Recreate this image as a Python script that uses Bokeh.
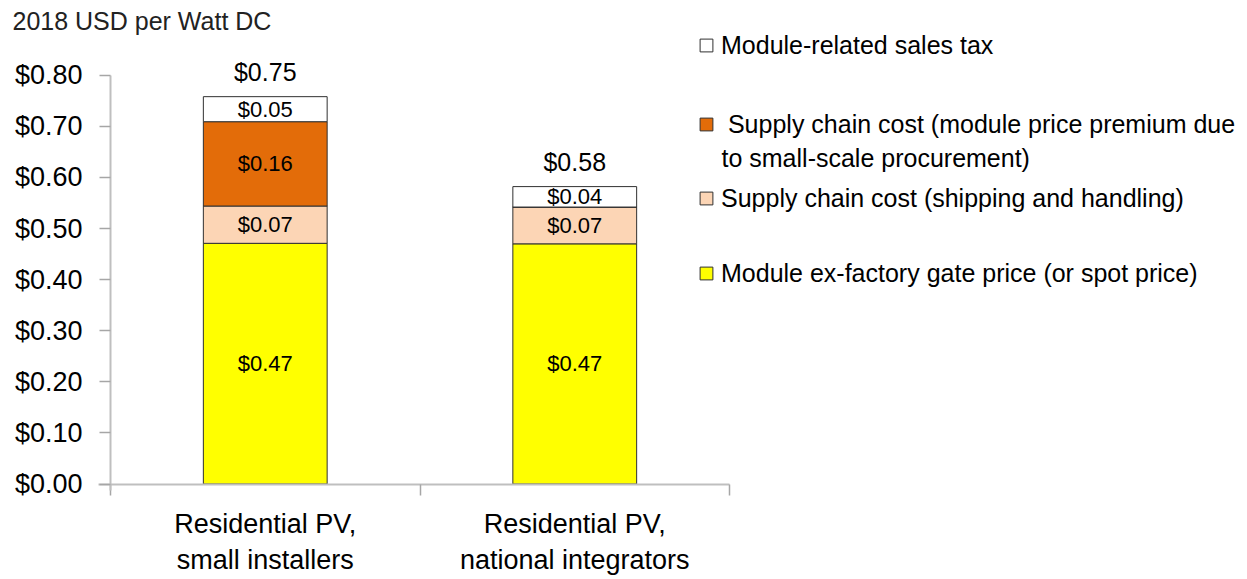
from bokeh.plotting import figure
from bokeh.models import (ColumnDataSource, Range1d, FixedTicker, NumeralTickFormatter,
                          Legend, LegendItem, Label)
from bokeh.embed import file_html
from bokeh.resources import INLINE
from bokeh.core.properties import value

# ---------------- data ----------------
categories = ["Residential PV,\nsmall installers", "Residential PV,\nnational integrators"]
module_price = [0.471, 0.470]      # Module ex-factory gate price (or spot price)
shipping = [0.073, 0.072]          # Supply chain cost (shipping and handling)
premium = [0.165, 0.0]             # Supply chain cost (module price premium ...)
sales_tax = [0.049, 0.040]         # Module-related sales tax

module_labels = ["$0.47", "$0.47"]
shipping_labels = ["$0.07", "$0.07"]
premium_labels = ["$0.16", ""]
tax_labels = ["$0.05", "$0.04"]
total_labels = ["$0.75", "$0.58"]

series_names = ["Module ex-factory gate price (or spot price)",
                "Supply chain cost (shipping and handling)",
                " Supply chain cost (module price premium due",
                "Module-related sales tax"]
series_second_line = "to small-scale procurement)"
colors = ["#FFFF00", "#FCD5B5", "#E36C09", "#FFFFFF"]
y_ticks = [0.0, 0.1, 0.2, 0.3, 0.4, 0.5, 0.6, 0.7, 0.8]
y_title = "2018 USD per Watt DC"

FONT = "Liberation Sans"

# ---------------- layout (page pixel geometry) ----------------
W, H = 1247, 579
PAGE_OFF = 0
X0_PAGE = 110.0        # page x of category axis start
PX_CAT = 309.5         # px per category
Y0_PAGE = 483.5        # page y of value 0
PX_Y = 511.0           # px per unit value

def dx(px):  # page x -> data x
    return (px - X0_PAGE) / PX_CAT

def dy(py):  # page y -> data y
    return (Y0_PAGE - py) / PX_Y

n = len(categories)
xs = [i + 0.5 for i in range(n)]
keys = ["module", "shipping", "premium", "tax"]
src = ColumnDataSource(dict(x=xs, module=module_price, shipping=shipping,
                            premium=premium, tax=sales_tax))

p = figure(width=W, height=H, output_backend="svg", toolbar_location=None,
           x_range=Range1d(dx(PAGE_OFF), dx(PAGE_OFF + W)),
           y_range=Range1d(dy(PAGE_OFF + H), dy(PAGE_OFF)),
           min_border=0)
p.outline_line_color = None
p.xgrid.visible = False
p.ygrid.visible = False
p.background_fill_color = "white"

renderers = p.vbar_stack(keys, x="x", width=0.4, source=src, color=colors,
                         line_color="#303030", line_width=1)

# segment labels
bottoms = [0.0] * n
seg_vals = [module_price, shipping, premium, sales_tax]
seg_labs = [module_labels, shipping_labels, premium_labels, tax_labels]
lx, ly, lt = [], [], []
for vals, labs in zip(seg_vals, seg_labs):
    for i in range(n):
        if labs[i]:
            lx.append(xs[i]); ly.append(bottoms[i] + vals[i] / 2); lt.append(labs[i])
        bottoms[i] += vals[i]
p.text(x=lx, y=ly, text=lt, text_align="center", text_baseline="middle",
       text_font=value(FONT), text_font_size="22px", text_color="black")
p.text(x=xs, y=bottoms, text=total_labels, text_align="center", text_baseline="middle",
       y_offset=-25, text_font=value(FONT), text_font_size="25px", text_color="black")

# axes (fixed at the origin so they take no border space)
ax = p.yaxis[0]
ax.fixed_location = 0
ax.ticker = FixedTicker(ticks=y_ticks, minor_ticks=[])
ax.formatter = NumeralTickFormatter(format="$0.00")
ax.bounds = (-0.012, 0.8)
ax.axis_line_color = "#BFBFBF"
ax.axis_line_width = 2
ax.major_tick_line_color = "#A6A6A6"
ax.major_tick_line_width = 1.5
ax.major_tick_out = 11
ax.major_tick_in = 0
ax.minor_tick_line_color = None
ax.major_label_standoff = 17
ax.major_label_text_font = FONT
ax.major_label_text_font_size = "27px"
ax.major_label_text_color = "black"

bx = p.xaxis[0]
bx.fixed_location = 0
bx.ticker = FixedTicker(ticks=xs, minor_ticks=[float(i) for i in range(n + 1)])
bx.major_label_overrides = {x: c for x, c in zip(xs, categories)}
bx.bounds = (-0.04, float(n))
bx.axis_line_color = "#BFBFBF"
bx.axis_line_width = 2
bx.major_tick_line_color = None
bx.major_tick_out = 0
bx.major_tick_in = 0
bx.minor_tick_line_color = "#A6A6A6"
bx.minor_tick_line_width = 1.5
bx.minor_tick_out = 11
bx.minor_tick_in = 0
bx.major_label_standoff = 14
bx.major_label_text_font = FONT
bx.major_label_text_font_size = "27px"
bx.major_label_text_color = "black"

# title
p.add_layout(Label(x=dx(12), y=dy(20), text=y_title, text_font=FONT,
                   text_font_size="25px", text_baseline="middle", text_color="#222222"))

# legends (one per entry, top to bottom), centre page y of each row
ITEM_H = 29
legend_rows = [(3, 45), (2, 124), (1, 198), (0, 273)]
for idx, yc in legend_rows:
    lg = Legend(items=[LegendItem(label=series_names[idx], renderers=[renderers[idx]])],
                location=(698 - PAGE_OFF, (PAGE_OFF + H) - (yc + ITEM_H / 2)),
                border_line_color=None, background_fill_alpha=0,
                padding=0, margin=0, glyph_width=16, glyph_height=16, label_standoff=7,
                label_text_font=FONT, label_text_font_size="25px", label_height=16,
                label_text_color="black")
    p.add_layout(lg)

p.add_layout(Label(x=dx(721), y=dy(157), text=series_second_line, text_font=FONT,
                   text_font_size="25px", text_baseline="middle", text_color="black"))

open("out.html", "w").write(file_html(p, INLINE))
